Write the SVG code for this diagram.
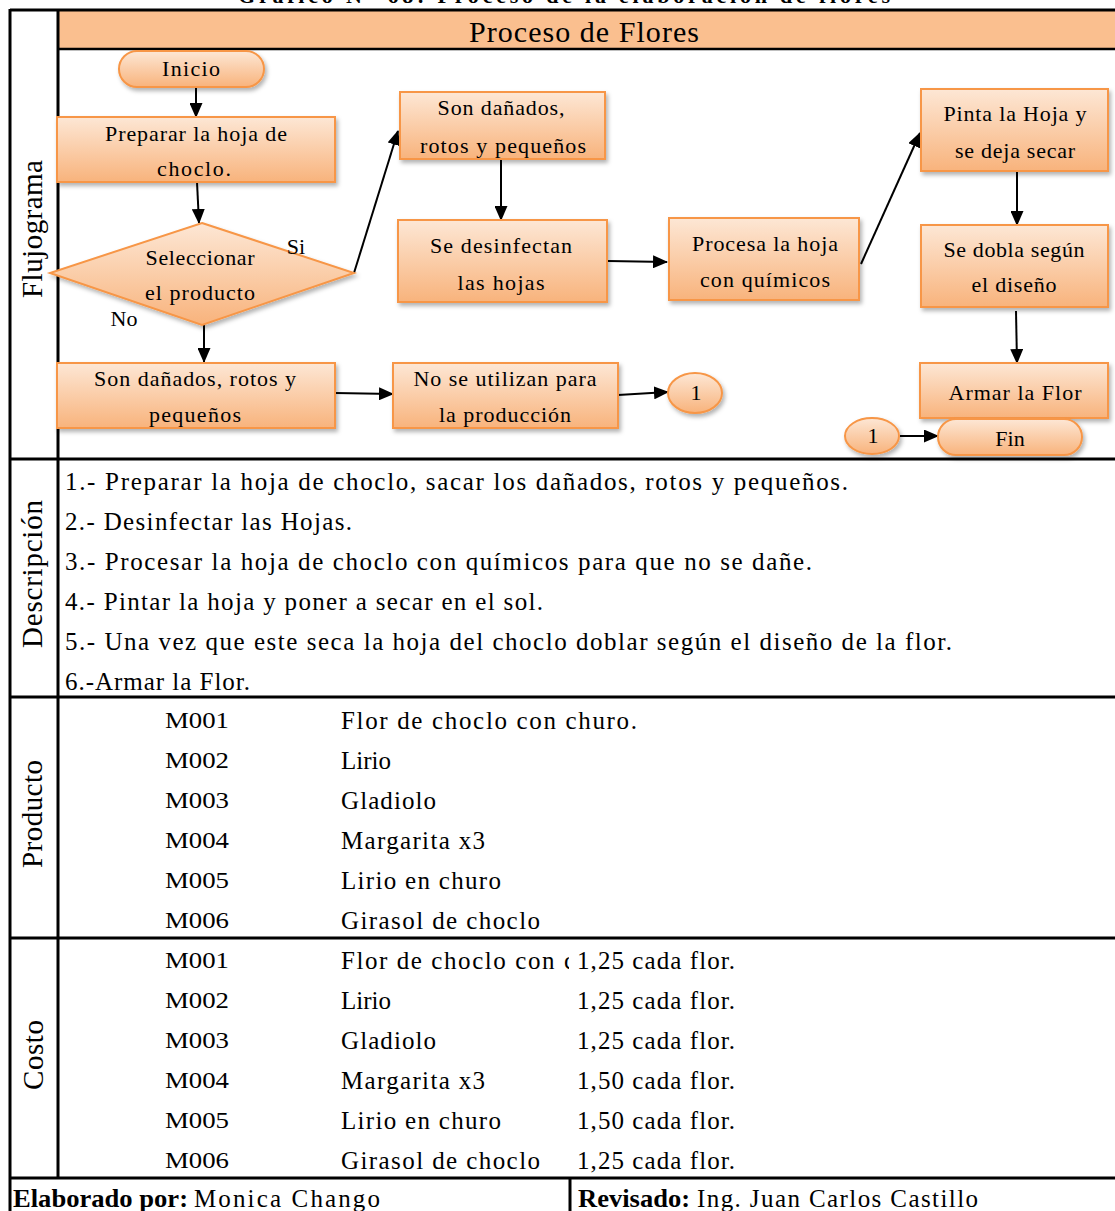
<svg xmlns="http://www.w3.org/2000/svg" width="1115" height="1211" viewBox="0 0 1115 1211">
  <defs>
    <linearGradient id="boxFill" x1="0" y1="0" x2="0" y2="1">
      <stop offset="0" stop-color="#FDE7D5"/>
      <stop offset="1" stop-color="#F8B37C"/>
    </linearGradient>
    <filter id="shadow" x="-10%" y="-10%" width="130%" height="140%">
      <feDropShadow dx="2" dy="3" stdDeviation="2" flood-color="#000" flood-opacity="0.3"/>
    </filter>
    <marker id="arrow" markerUnits="userSpaceOnUse" markerWidth="15" markerHeight="13" refX="14" refY="6.5" orient="auto">
      <path d="M0,0 L15,6.5 L0,13 z" fill="#000"/>
    </marker>
    <clipPath id="cellClip">
      <rect x="330" y="938" width="239" height="40"/>
    </clipPath>
  </defs>
  <style>
    .shape { fill: url(#boxFill); stroke: #F79646; stroke-width: 2; filter: url(#shadow); }
    .t { font-family: "Liberation Serif", "Times New Roman", serif; font-size: 22px; fill: #000; text-anchor: middle; }
    .row { font-family: "Liberation Serif", "Times New Roman", serif; font-size: 25px; fill: #000; }
    .code { font-size: 23px; }
    .side { font-family: "Liberation Serif", "Times New Roman", serif; font-size: 29px; fill: #000; text-anchor: middle; }
    .conn { stroke: #000; stroke-width: 2; fill: none; marker-end: url(#arrow); }
    .rule { stroke: #000; stroke-width: 3; fill: none; }
    .bold { font-weight: bold; }
  </style>

  <rect width="1115" height="1211" fill="#fff"/>

  <!-- caption above the sheet (cut by the top edge) -->
  <text x="564" y="3" font-family="Liberation Serif, serif" font-size="22" font-weight="bold" text-anchor="middle" textLength="652" lengthAdjust="spacing">Gráfico N° 68: Proceso de la elaboración de flores</text>

  <!-- header band -->
  <rect x="58" y="11" width="1057" height="38" fill="#FABF8F"/>
  <text x="584" y="42" font-family="Liberation Serif, serif" font-size="30" text-anchor="middle" textLength="230" lengthAdjust="spacing">Proceso de Flores</text>

  <!-- sheet grid -->
  <g id="grid">
    <line class="rule" x1="10" y1="10" x2="1115" y2="10"/>
    <line class="rule" x1="10" y1="9" x2="10" y2="1211"/>
    <line class="rule" x1="58" y1="10" x2="58" y2="1178"/>
    <line x1="58" y1="49" x2="1115" y2="49" stroke="#000" stroke-width="2.5"/>
    <line class="rule" x1="10" y1="459" x2="1115" y2="459"/>
    <line class="rule" x1="10" y1="697" x2="1115" y2="697"/>
    <line class="rule" x1="10" y1="938" x2="1115" y2="938"/>
    <line class="rule" x1="10" y1="1178" x2="1115" y2="1178"/>
    <line class="rule" x1="570" y1="1178" x2="570" y2="1211"/>
  </g>

  <!-- section labels -->
  <text class="side" transform="translate(42,229) rotate(-90)" textLength="138" lengthAdjust="spacing">Flujograma</text>
  <text class="side" transform="translate(42,574) rotate(-90)" textLength="148" lengthAdjust="spacing">Descripción</text>
  <text class="side" transform="translate(42,814) rotate(-90)" textLength="108" lengthAdjust="spacing">Producto</text>
  <text class="side" transform="translate(43,1055) rotate(-90)" textLength="70" lengthAdjust="spacing">Costo</text>

  <!-- flowchart connectors -->
  <g id="connectors">
    <line class="conn" x1="196" y1="87" x2="196" y2="117"/>
    <line class="conn" x1="197" y1="182" x2="199" y2="223"/>
    <line class="conn" x1="354" y1="273" x2="398" y2="131"/>
    <line class="conn" x1="501" y1="159" x2="501" y2="220"/>
    <line class="conn" x1="608" y1="261" x2="667" y2="262"/>
    <line class="conn" x1="861" y1="264" x2="920" y2="133"/>
    <line class="conn" x1="1017" y1="172" x2="1017" y2="225"/>
    <line class="conn" x1="1016" y1="311" x2="1017" y2="363"/>
    <line class="conn" x1="204" y1="325" x2="204" y2="362"/>
    <line class="conn" x1="335" y1="393" x2="393" y2="394"/>
    <line class="conn" x1="618" y1="395" x2="668" y2="392"/>
    <line class="conn" x1="900" y1="436" x2="938" y2="436"/>
  </g>

  <!-- flowchart nodes -->
  <g id="inicio">
    <rect class="shape" x="119" y="51" width="145" height="36" rx="18"/>
    <text class="t" x="191" y="76" textLength="58" lengthAdjust="spacing">Inicio</text>
  </g>
  <g id="preparar">
    <rect class="shape" x="57" y="117" width="278" height="65"/>
    <text class="t" x="196" y="141" textLength="182" lengthAdjust="spacing">Preparar la hoja de</text>
    <text class="t" x="194" y="176" textLength="74" lengthAdjust="spacing">choclo.</text>
  </g>
  <g id="seleccionar">
    <polygon class="shape" points="202,223 354,273 202,325 50,273"/>
    <text class="t" x="200" y="265" textLength="109" lengthAdjust="spacing">Seleccionar</text>
    <text class="t" x="200" y="300" textLength="110" lengthAdjust="spacing">el producto</text>
    <text class="t" x="296" y="254">Si</text>
    <text class="t" x="124" y="326">No</text>
  </g>
  <g id="danados-si">
    <rect class="shape" x="400" y="92" width="205" height="67"/>
    <text class="t" x="501" y="115" textLength="127" lengthAdjust="spacing">Son dañados,</text>
    <text class="t" x="503" y="153" textLength="166" lengthAdjust="spacing">rotos y pequeños</text>
  </g>
  <g id="desinfectan">
    <rect class="shape" x="398" y="220" width="209" height="82"/>
    <text class="t" x="501" y="253" textLength="142" lengthAdjust="spacing">Se desinfectan</text>
    <text class="t" x="501" y="290" textLength="87" lengthAdjust="spacing">las hojas</text>
  </g>
  <g id="procesa">
    <rect class="shape" x="669" y="218" width="190" height="82"/>
    <text class="t" x="765" y="251" textLength="146" lengthAdjust="spacing">Procesa la hoja</text>
    <text class="t" x="765" y="287" textLength="130" lengthAdjust="spacing">con químicos</text>
  </g>
  <g id="pinta">
    <rect class="shape" x="921" y="89" width="187" height="82"/>
    <text class="t" x="1015" y="121" textLength="143" lengthAdjust="spacing">Pinta la Hoja y</text>
    <text class="t" x="1015" y="158" textLength="120" lengthAdjust="spacing">se deja secar</text>
  </g>
  <g id="dobla">
    <rect class="shape" x="921" y="225" width="187" height="82"/>
    <text class="t" x="1014" y="257" textLength="141" lengthAdjust="spacing">Se dobla según</text>
    <text class="t" x="1014" y="292" textLength="85" lengthAdjust="spacing">el diseño</text>
  </g>
  <g id="armar">
    <rect class="shape" x="920" y="363" width="188" height="55"/>
    <text class="t" x="1015" y="400" textLength="133" lengthAdjust="spacing">Armar la Flor</text>
  </g>
  <g id="fin">
    <rect class="shape" x="938" y="419" width="144" height="36" rx="18"/>
    <text class="t" x="1010" y="446">Fin</text>
  </g>
  <g id="danados-no">
    <rect class="shape" x="57" y="363" width="278" height="65"/>
    <text class="t" x="195" y="386" textLength="202" lengthAdjust="spacing">Son dañados, rotos y</text>
    <text class="t" x="195" y="422" textLength="92" lengthAdjust="spacing">pequeños</text>
  </g>
  <g id="no-utilizan">
    <rect class="shape" x="393" y="363" width="225" height="65"/>
    <text class="t" x="505" y="386" textLength="183" lengthAdjust="spacing">No se utilizan para</text>
    <text class="t" x="505" y="422" textLength="132" lengthAdjust="spacing">la producción</text>
  </g>
  <g id="conector-a">
    <ellipse class="shape" cx="695" cy="393" rx="27" ry="20"/>
    <text class="t" x="696" y="400">1</text>
  </g>
  <g id="conector-b">
    <ellipse class="shape" cx="872" cy="436" rx="27" ry="18"/>
    <text class="t" x="873" y="443">1</text>
  </g>

  <!-- description rows -->
  <g class="row">
    <text x="65" y="490" textLength="783" lengthAdjust="spacing">1.- Preparar la hoja de choclo, sacar los dañados, rotos y pequeños.</text>
    <text x="65" y="530" textLength="287" lengthAdjust="spacing">2.- Desinfectar las Hojas.</text>
    <text x="65" y="570" textLength="747" lengthAdjust="spacing">3.- Procesar la hoja de choclo con químicos para que no se dañe.</text>
    <text x="65" y="610" textLength="478" lengthAdjust="spacing">4.- Pintar la hoja y poner a secar en el sol.</text>
    <text x="65" y="650" textLength="887" lengthAdjust="spacing">5.- Una vez que este seca la hoja del choclo doblar según el diseño de la flor.</text>
    <text x="65" y="690" textLength="185" lengthAdjust="spacing">6.-Armar la Flor.</text>
  </g>

  <!-- product rows -->
  <g class="row">
    <text class="code" x="165" y="728" textLength="64" lengthAdjust="spacingAndGlyphs">M001</text>
    <text class="code" x="165" y="768" textLength="64" lengthAdjust="spacingAndGlyphs">M002</text>
    <text class="code" x="165" y="808" textLength="64" lengthAdjust="spacingAndGlyphs">M003</text>
    <text class="code" x="165" y="848" textLength="64" lengthAdjust="spacingAndGlyphs">M004</text>
    <text class="code" x="165" y="888" textLength="64" lengthAdjust="spacingAndGlyphs">M005</text>
    <text class="code" x="165" y="928" textLength="64" lengthAdjust="spacingAndGlyphs">M006</text>
    <text x="341" y="729" textLength="296" lengthAdjust="spacing">Flor de choclo con churo.</text>
    <text x="341" y="769">Lirio</text>
    <text x="341" y="809" textLength="95" lengthAdjust="spacing">Gladiolo</text>
    <text x="341" y="849" textLength="144" lengthAdjust="spacing">Margarita x3</text>
    <text x="341" y="889" textLength="160" lengthAdjust="spacing">Lirio en churo</text>
    <text x="341" y="929" textLength="199" lengthAdjust="spacing">Girasol de choclo</text>
  </g>

  <!-- cost rows -->
  <g class="row">
    <text class="code" x="165" y="968" textLength="64" lengthAdjust="spacingAndGlyphs">M001</text>
    <text class="code" x="165" y="1008" textLength="64" lengthAdjust="spacingAndGlyphs">M002</text>
    <text class="code" x="165" y="1048" textLength="64" lengthAdjust="spacingAndGlyphs">M003</text>
    <text class="code" x="165" y="1088" textLength="64" lengthAdjust="spacingAndGlyphs">M004</text>
    <text class="code" x="165" y="1128" textLength="64" lengthAdjust="spacingAndGlyphs">M005</text>
    <text class="code" x="165" y="1168" textLength="64" lengthAdjust="spacingAndGlyphs">M006</text>
    <text x="341" y="969" textLength="234" lengthAdjust="spacing" clip-path="url(#cellClip)">Flor de choclo con c</text>
    <text x="341" y="1009">Lirio</text>
    <text x="341" y="1049" textLength="95" lengthAdjust="spacing">Gladiolo</text>
    <text x="341" y="1089" textLength="144" lengthAdjust="spacing">Margarita x3</text>
    <text x="341" y="1129" textLength="160" lengthAdjust="spacing">Lirio en churo</text>
    <text x="341" y="1169" textLength="199" lengthAdjust="spacing">Girasol de choclo</text>
    <text x="577" y="969" textLength="158" lengthAdjust="spacing">1,25 cada flor.</text>
    <text x="577" y="1009" textLength="158" lengthAdjust="spacing">1,25 cada flor.</text>
    <text x="577" y="1049" textLength="158" lengthAdjust="spacing">1,25 cada flor.</text>
    <text x="577" y="1089" textLength="158" lengthAdjust="spacing">1,50 cada flor.</text>
    <text x="577" y="1129" textLength="158" lengthAdjust="spacing">1,50 cada flor.</text>
    <text x="577" y="1169" textLength="158" lengthAdjust="spacing">1,25 cada flor.</text>
  </g>

  <!-- footer -->
  <g class="row">
    <text x="13" y="1207"><tspan class="bold" textLength="175" lengthAdjust="spacingAndGlyphs">Elaborado por:</tspan><tspan x="194" textLength="186" lengthAdjust="spacing">Monica Chango</tspan></text>
    <text x="578" y="1207"><tspan class="bold" textLength="112" lengthAdjust="spacingAndGlyphs">Revisado:</tspan><tspan x="697" textLength="281" lengthAdjust="spacing">Ing. Juan Carlos Castillo</tspan></text>
  </g>
</svg>
